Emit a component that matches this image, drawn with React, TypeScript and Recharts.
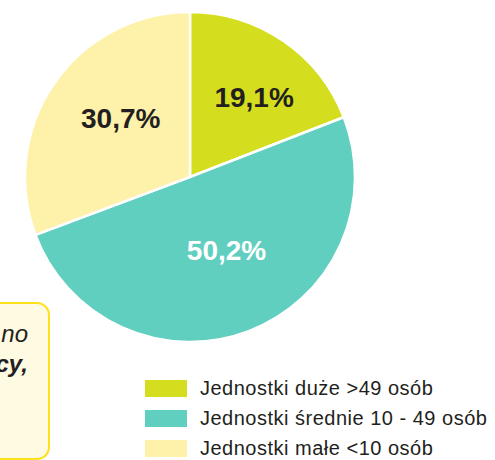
import React from 'react';
import { PieChart, Pie, Cell, Legend } from 'recharts';

// Struktura jednostek wg liczby pracujących (%)
const categories = ['Jednostki duże >49 osób', 'Jednostki średnie 10 - 49 osób', 'Jednostki małe <10 osób'];
const shares = [19.1, 50.2, 30.7];
const colors = ['#D4DE1F', '#61CFBF', '#FEF2AB'];
const labelColors = ['#231F20', '#FFFFFF', '#231F20'];

// small hand tweaks so the labels sit where the original has them
const labelNudge = [
  [11, -2],
  [3, -14],
  [8, -5],
];

const data = categories.map((name, i) => ({ name, value: shares[i] }));

const fmt = (v: number) => `${v.toFixed(1).replace('.', ',')}%`;

const RADIAN = Math.PI / 180;

const renderLabel = (props: any) => {
  const { cx, cy, midAngle, outerRadius, index, value } = props;
  const r = outerRadius * 0.57;
  const x = cx + r * Math.cos(-midAngle * RADIAN) + labelNudge[index][0];
  const y = cy + r * Math.sin(-midAngle * RADIAN) + labelNudge[index][1];
  return (
    <text
      x={x}
      y={y}
      fill={labelColors[index]}
      textAnchor="middle"
      dominantBaseline="central"
      fontFamily="'Liberation Sans', Arial, sans-serif"
      fontWeight="bold"
      fontSize={28}
    >
      {fmt(value)}
    </text>
  );
};

const renderLegend = () => (
  <div style={{ fontFamily: "'Liberation Sans', Arial, sans-serif" }}>
    {categories.map((c, i) => (
      <div key={c} style={{ display: 'flex', alignItems: 'center', height: 30 }}>
        <span style={{ width: 42, height: 17, background: colors[i], marginRight: 13, flex: 'none' }} />
        <span style={{ fontSize: 20, color: '#231F20', letterSpacing: 0.5, whiteSpace: 'nowrap' }}>{c}</span>
      </div>
    ))}
  </div>
);

export default function App() {
  return (
    <div style={{ position: 'absolute', left: 0, top: 0, width: 495, height: 460, overflow: 'hidden', background: '#fff' }}>
      {/* ramka z komentarzem, ucięta po lewej */}
      <div
        style={{
          position: 'absolute',
          left: -30,
          top: 302,
          width: 80,
          height: 158,
          boxSizing: 'border-box',
          border: '2.5px solid #FFE11B',
          borderRadius: 13,
          background: '#FFFAE2',
          fontFamily: "'Liberation Sans', Arial, sans-serif",
          fontStyle: 'italic',
          fontSize: 24,
          color: '#231F20',
          textAlign: 'right',
          paddingRight: 20,
          paddingTop: 15,
          lineHeight: '30px',
        }}
      >
        <div>no</div>
        <div style={{ fontWeight: 'bold' }}>cy,</div>
      </div>
      <PieChart
        width={495}
        height={460}
        margin={{ top: 0, right: 0, bottom: 0, left: 0 }}
        style={{ position: 'absolute', left: 0, top: 0 }}
      >
        <Pie
          data={data}
          dataKey="value"
          nameKey="name"
          cx={190}
          cy={177}
          outerRadius={165}
          startAngle={90}
          endAngle={-270}
          stroke="#FFFFFF"
          strokeWidth={2.5}
          label={renderLabel}
          labelLine={false}
          isAnimationActive={false}
        >
          {data.map((d, i) => (
            <Cell key={d.name} fill={colors[i]} />
          ))}
        </Pie>
        <Legend
          layout="vertical"
          content={renderLegend}
          wrapperStyle={{ position: 'absolute', left: 145, top: 373, width: 350 }}
        />
      </PieChart>
    </div>
  );
}
